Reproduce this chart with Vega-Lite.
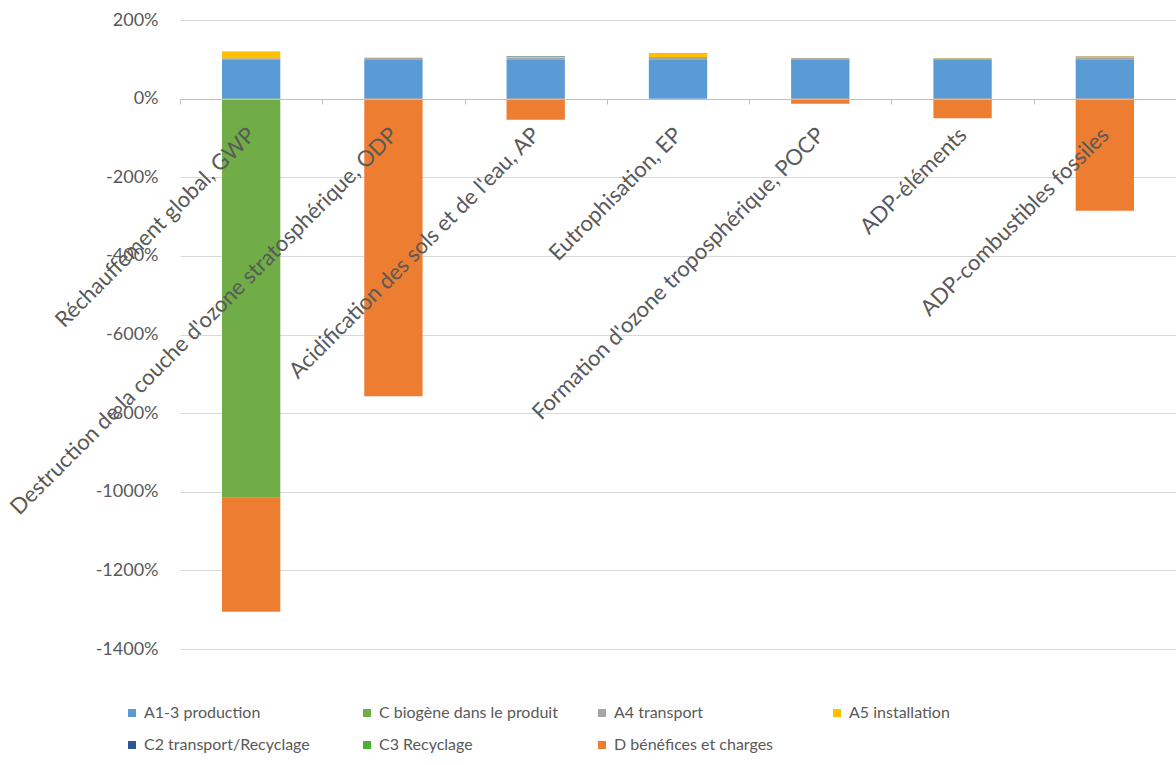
{
  "$schema": "https://vega.github.io/schema/vega-lite/v6.json",
  "autosize": {"type": "none"},
  "width": 996,
  "height": 629,
  "padding": {"left": 180, "top": 20, "right": 0, "bottom": 116},
  "background": "white",
  "config": {
    "font": "Lato",
    "view": {"stroke": null},
    "axis": {"labelColor": "#595959", "labelFont": "Lato"},
    "legend": {"labelColor": "#595959", "labelFont": "Lato"}
  },
  "data": {
    "values": [
      {"cat": "Réchauffement global, GWP", "serie": "A1-3 production", "ord": 1, "v": 100},
      {"cat": "Réchauffement global, GWP", "serie": "C biogène dans le produit", "ord": 2, "v": -1015},
      {"cat": "Réchauffement global, GWP", "serie": "A4 transport", "ord": 3, "v": 3},
      {"cat": "Réchauffement global, GWP", "serie": "A5 installation", "ord": 4, "v": 16},
      {"cat": "Réchauffement global, GWP", "serie": "C2 transport/Recyclage", "ord": 5, "v": 0.5},
      {"cat": "Réchauffement global, GWP", "serie": "C3 Recyclage", "ord": 6, "v": 0.3},
      {"cat": "Réchauffement global, GWP", "serie": "D bénéfices et charges", "ord": 7, "v": -290},
      {"cat": "Destruction de la couche d'ozone stratosphérique, ODP", "serie": "A1-3 production", "ord": 1, "v": 100},
      {"cat": "Destruction de la couche d'ozone stratosphérique, ODP", "serie": "C biogène dans le produit", "ord": 2, "v": 0},
      {"cat": "Destruction de la couche d'ozone stratosphérique, ODP", "serie": "A4 transport", "ord": 3, "v": 2},
      {"cat": "Destruction de la couche d'ozone stratosphérique, ODP", "serie": "A5 installation", "ord": 4, "v": 1},
      {"cat": "Destruction de la couche d'ozone stratosphérique, ODP", "serie": "C2 transport/Recyclage", "ord": 5, "v": 0.5},
      {"cat": "Destruction de la couche d'ozone stratosphérique, ODP", "serie": "C3 Recyclage", "ord": 6, "v": 0.5},
      {"cat": "Destruction de la couche d'ozone stratosphérique, ODP", "serie": "D bénéfices et charges", "ord": 7, "v": -757},
      {"cat": "Acidification des sols et de l'eau, AP", "serie": "A1-3 production", "ord": 1, "v": 100},
      {"cat": "Acidification des sols et de l'eau, AP", "serie": "C biogène dans le produit", "ord": 2, "v": 0},
      {"cat": "Acidification des sols et de l'eau, AP", "serie": "A4 transport", "ord": 3, "v": 4},
      {"cat": "Acidification des sols et de l'eau, AP", "serie": "A5 installation", "ord": 4, "v": 2},
      {"cat": "Acidification des sols et de l'eau, AP", "serie": "C2 transport/Recyclage", "ord": 5, "v": 1},
      {"cat": "Acidification des sols et de l'eau, AP", "serie": "C3 Recyclage", "ord": 6, "v": 1},
      {"cat": "Acidification des sols et de l'eau, AP", "serie": "D bénéfices et charges", "ord": 7, "v": -54},
      {"cat": "Eutrophisation, EP", "serie": "A1-3 production", "ord": 1, "v": 100},
      {"cat": "Eutrophisation, EP", "serie": "C biogène dans le produit", "ord": 2, "v": 0},
      {"cat": "Eutrophisation, EP", "serie": "A4 transport", "ord": 3, "v": 6},
      {"cat": "Eutrophisation, EP", "serie": "A5 installation", "ord": 4, "v": 8},
      {"cat": "Eutrophisation, EP", "serie": "C2 transport/Recyclage", "ord": 5, "v": 1},
      {"cat": "Eutrophisation, EP", "serie": "C3 Recyclage", "ord": 6, "v": 0.5},
      {"cat": "Eutrophisation, EP", "serie": "D bénéfices et charges", "ord": 7, "v": 0},
      {"cat": "Formation d'ozone troposphérique, POCP", "serie": "A1-3 production", "ord": 1, "v": 100},
      {"cat": "Formation d'ozone troposphérique, POCP", "serie": "C biogène dans le produit", "ord": 2, "v": 0},
      {"cat": "Formation d'ozone troposphérique, POCP", "serie": "A4 transport", "ord": 3, "v": 2},
      {"cat": "Formation d'ozone troposphérique, POCP", "serie": "A5 installation", "ord": 4, "v": 1},
      {"cat": "Formation d'ozone troposphérique, POCP", "serie": "C2 transport/Recyclage", "ord": 5, "v": 0.5},
      {"cat": "Formation d'ozone troposphérique, POCP", "serie": "C3 Recyclage", "ord": 6, "v": 0},
      {"cat": "Formation d'ozone troposphérique, POCP", "serie": "D bénéfices et charges", "ord": 7, "v": -13},
      {"cat": "ADP-éléments", "serie": "A1-3 production", "ord": 1, "v": 100},
      {"cat": "ADP-éléments", "serie": "C biogène dans le produit", "ord": 2, "v": 0},
      {"cat": "ADP-éléments", "serie": "A4 transport", "ord": 3, "v": 1},
      {"cat": "ADP-éléments", "serie": "A5 installation", "ord": 4, "v": 1},
      {"cat": "ADP-éléments", "serie": "C2 transport/Recyclage", "ord": 5, "v": 0.5},
      {"cat": "ADP-éléments", "serie": "C3 Recyclage", "ord": 6, "v": 0},
      {"cat": "ADP-éléments", "serie": "D bénéfices et charges", "ord": 7, "v": -50},
      {"cat": "ADP-combustibles fossiles", "serie": "A1-3 production", "ord": 1, "v": 100},
      {"cat": "ADP-combustibles fossiles", "serie": "C biogène dans le produit", "ord": 2, "v": 0},
      {"cat": "ADP-combustibles fossiles", "serie": "A4 transport", "ord": 3, "v": 5},
      {"cat": "ADP-combustibles fossiles", "serie": "A5 installation", "ord": 4, "v": 2},
      {"cat": "ADP-combustibles fossiles", "serie": "C2 transport/Recyclage", "ord": 5, "v": 1},
      {"cat": "ADP-combustibles fossiles", "serie": "C3 Recyclage", "ord": 6, "v": 0},
      {"cat": "ADP-combustibles fossiles", "serie": "D bénéfices et charges", "ord": 7, "v": -285}
    ]
  },
  "mark": {"type": "bar", "width": {"band": 0.41}},
  "encoding": {
    "x": {
      "field": "cat",
      "type": "nominal",
      "sort": null,
      "scale": {"paddingInner": 0, "paddingOuter": 0},
      "axis": {
        "title": null,
        "zindex": 1,
        "offset": -550,
        "labelAngle": -45,
        "labelAlign": "right",
        "labelBaseline": "middle",
        "labelFontSize": 22,
        "labelPadding": 27,
        "labelLimit": 0,
        "tickBand": "extent",
        "tickSize": 5,
        "tickColor": "#BFBFBF",
        "domainColor": "#BFBFBF",
        "grid": false
      }
    },
    "y": {
      "field": "v",
      "type": "quantitative",
      "stack": "zero",
      "scale": {"domain": [-1400, 200], "nice": false, "zero": false},
      "axis": {
        "title": null,
        "values": [200, 0, -200, -400, -600, -800, -1000, -1200, -1400],
        "labelExpr": "datum.value + '%'",
        "labelFontSize": 18,
        "labelPadding": 22,
        "domain": false,
        "ticks": false,
        "gridColor": "#D9D9D9",
        "gridWidth": 1
      }
    },
    "color": {
      "field": "serie",
      "type": "nominal",
      "sort": ["A1-3 production", "C biogène dans le produit", "A4 transport", "A5 installation", "C2 transport/Recyclage", "C3 Recyclage", "D bénéfices et charges"],
      "scale": {
        "domain": ["A1-3 production", "C biogène dans le produit", "A4 transport", "A5 installation", "C2 transport/Recyclage", "C3 Recyclage", "D bénéfices et charges"],
        "range": ["#5B9BD5", "#70AD47", "#A5A5A5", "#FFC000", "#2F5597", "#4CAF35", "#ED7D31"]
      },
      "legend": {
        "title": null,
        "orient": "none",
        "legendX": -56,
        "legendY": 685,
        "direction": "horizontal",
        "columns": 4,
        "gridAlign": "all",
        "columnPadding": 36,
        "rowPadding": 16,
        "symbolType": "square",
        "symbolSize": 64,
        "symbolStrokeWidth": 0,
        "labelOffset": 4,
        "labelFontSize": 16,
        "labelLimit": 0
      }
    },
    "order": {"field": "ord", "type": "quantitative"}
  }
}
